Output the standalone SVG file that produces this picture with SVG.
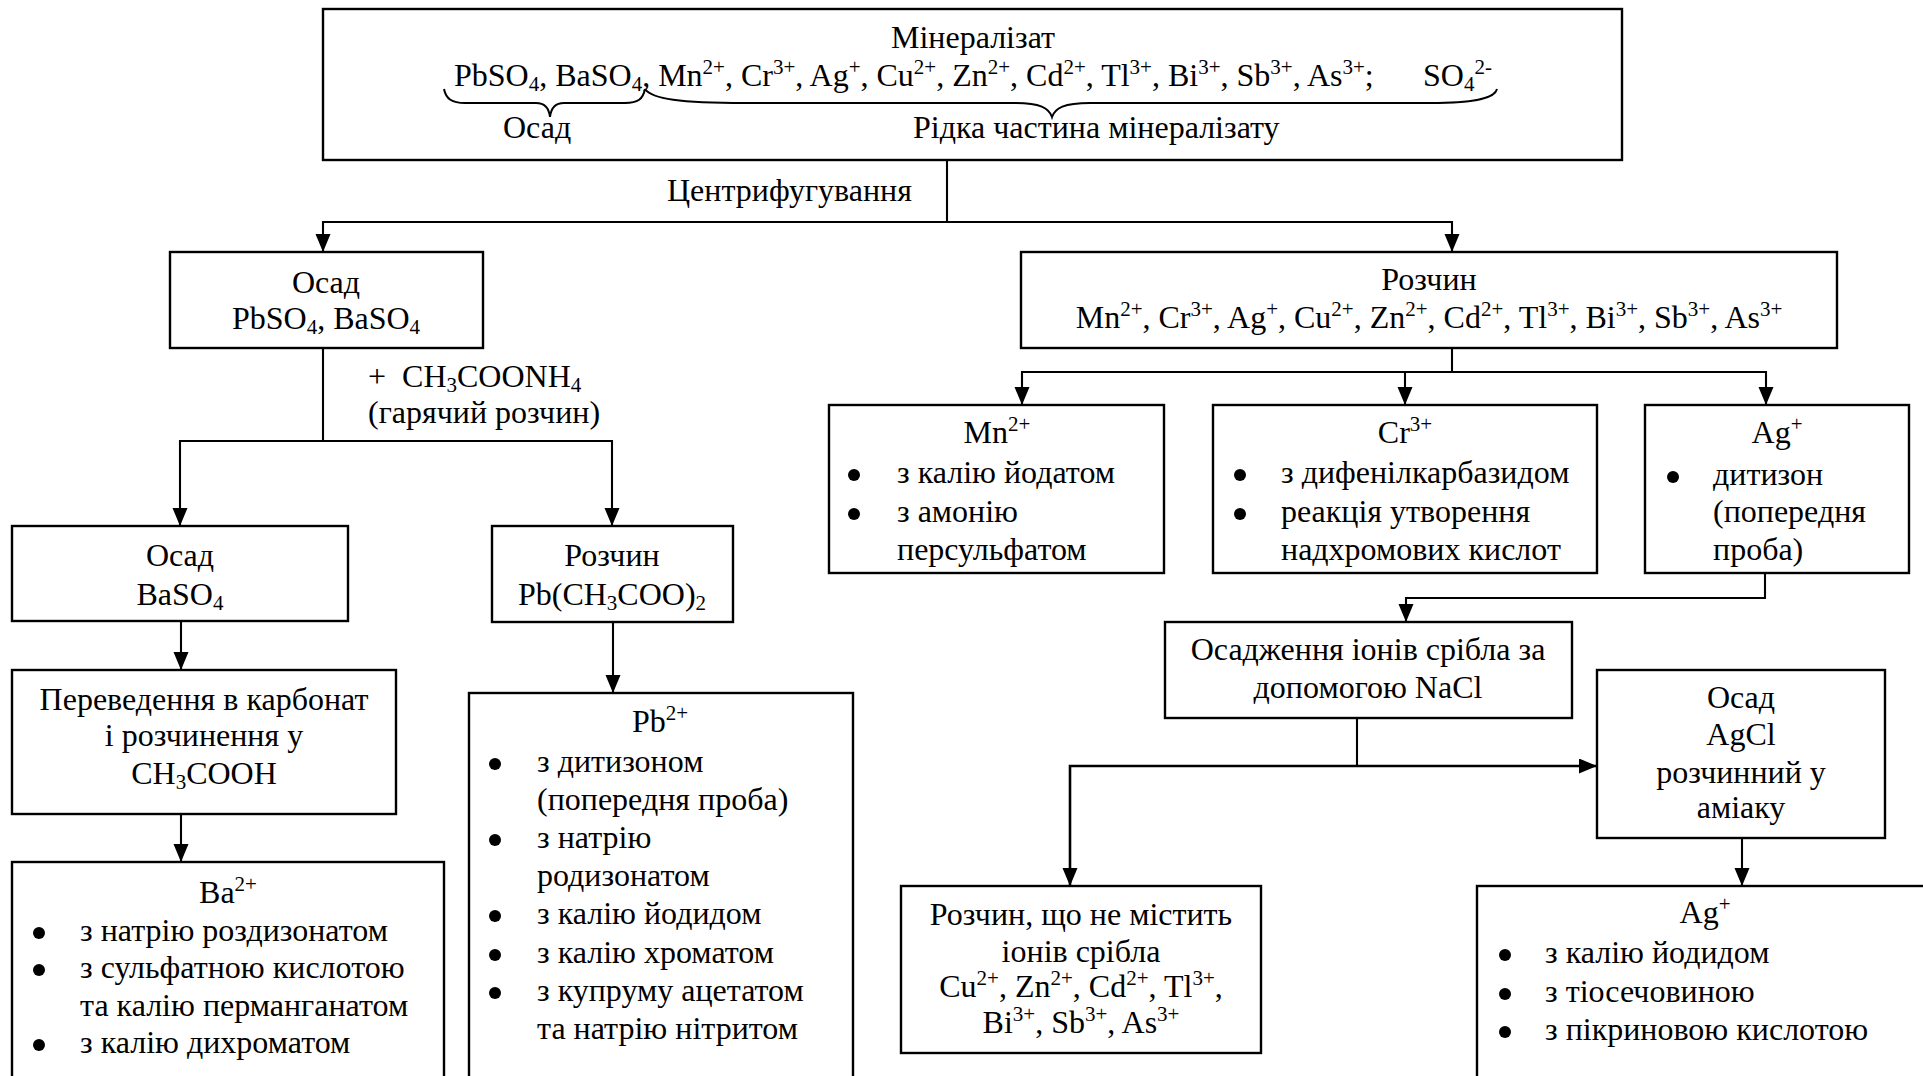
<svg xmlns="http://www.w3.org/2000/svg" width="1923" height="1076" viewBox="0 0 1923 1076">
<style>
.box{fill:#fff;stroke:#000;stroke-width:2.4}
.t{font-family:"Liberation Serif","Times New Roman",serif;font-size:32px;fill:#000}
.c{text-anchor:middle}
.s{font-size:21px}
.dot{fill:#000}
.ln{fill:none;stroke:#000;stroke-width:2.1}
.br{fill:none;stroke:#000;stroke-width:2}
</style>
<defs>
<marker id="ah" markerUnits="userSpaceOnUse" markerWidth="20" markerHeight="16" refX="18" refY="7.5" orient="auto"><path d="M0,0 L18,7.5 L0,15 z" fill="#000"/></marker>
</defs>
<rect width="1923" height="1076" fill="#fff"/>

<g id="connectors">
<path class="ln" d="M947,160 V222 H323 V252" marker-end="url(#ah)"/>
<path class="ln" d="M947,222 H1452 V252" marker-end="url(#ah)"/>
<path class="ln" d="M323,348 V441 H180 V526" marker-end="url(#ah)"/>
<path class="ln" d="M323,441 H612 V526" marker-end="url(#ah)"/>
<path class="ln" d="M181,621 V670" marker-end="url(#ah)"/>
<path class="ln" d="M181,814 V862" marker-end="url(#ah)"/>
<path class="ln" d="M613,622 V693" marker-end="url(#ah)"/>
<path class="ln" d="M1452,348 V372 H1022 V405" marker-end="url(#ah)"/>
<path class="ln" d="M1452,372 H1766 V405" marker-end="url(#ah)"/>
<path class="ln" d="M1405,372 V405" marker-end="url(#ah)"/>
<path class="ln" d="M1765,573 V598 H1406 V622" marker-end="url(#ah)"/>
<path class="ln" d="M1357,718 V766"/>
<path class="ln" d="M1357,766 H1597" marker-end="url(#ah)" style="stroke-width:2.6"/>
<path class="ln" d="M1357,766 H1070 V886" marker-end="url(#ah)" style="stroke-width:2.6"/>
<path class="ln" d="M1742,838 V886" marker-end="url(#ah)"/>
</g>

<g id="mineralizat">
<rect class="box" x="323" y="9" width="1299" height="151"/>
<text class="t c" x="973" y="48">Мінералізат</text>
<text class="t" x="454" y="86">PbSO<tspan class="s" dy="5">4</tspan><tspan dy="-5">, BaSO</tspan><tspan class="s" dy="5">4</tspan><tspan dy="-5">, Mn</tspan><tspan class="s" dy="-12">2+</tspan><tspan dy="12">, Cr</tspan><tspan class="s" dy="-12">3+</tspan><tspan dy="12">, Ag</tspan><tspan class="s" dy="-12">+</tspan><tspan dy="12">, Cu</tspan><tspan class="s" dy="-12">2+</tspan><tspan dy="12">, Zn</tspan><tspan class="s" dy="-12">2+</tspan><tspan dy="12">, Cd</tspan><tspan class="s" dy="-12">2+</tspan><tspan dy="12">, Tl</tspan><tspan class="s" dy="-12">3+</tspan><tspan dy="12">, Bi</tspan><tspan class="s" dy="-12">3+</tspan><tspan dy="12">, Sb</tspan><tspan class="s" dy="-12">3+</tspan><tspan dy="12">, As</tspan><tspan class="s" dy="-12">3+</tspan><tspan dy="12">;</tspan></text>
<text class="t" x="1423" y="86">SO<tspan class="s" dy="5">4</tspan><tspan class="s" dy="-17">2-</tspan></text>
<path class="br" d="M444,89 C446,99 452,103 465,103 L536,103 C545,103 549,108 550,117 C551,108 555,103 564,103 L625,103 C638,103 643,99 645,89"/>
<path class="br" d="M645,89 C652,99 680,103 745,103 L1015,103 C1040,103 1049,108 1052,117 C1055,108 1064,103 1090,103 L1430,103 C1480,103 1495,97 1497,89"/>
<text class="t" x="503" y="138">Осад</text>
<text class="t" x="913" y="138">Рідка частина мінералізату</text>
</g>

<g id="label-centrifuge">
<text class="t" x="667" y="201">Центрифугування</text>
</g>

<g id="osad1">
<rect class="box" x="170" y="252" width="313" height="96"/>
<text class="t c" x="326" y="293">Осад</text>
<text class="t c" x="326" y="329">PbSO<tspan class="s" dy="5">4</tspan><tspan dy="-5">, BaSO</tspan><tspan class="s" dy="5">4</tspan></text>
</g>

<g id="label-reagent">
<text class="t" x="368" y="387">+ &#160;CH<tspan class="s" dy="5">3</tspan><tspan dy="-5">COONH</tspan><tspan class="s" dy="5">4</tspan></text>
<text class="t" x="368" y="423">(гарячий розчин)</text>
</g>

<g id="rozchyn1">
<rect class="box" x="1021" y="252" width="816" height="96"/>
<text class="t c" x="1429" y="290">Розчин</text>
<text class="t c" x="1429" y="328">Mn<tspan class="s" dy="-12">2+</tspan><tspan dy="12">, Cr</tspan><tspan class="s" dy="-12">3+</tspan><tspan dy="12">, Ag</tspan><tspan class="s" dy="-12">+</tspan><tspan dy="12">, Cu</tspan><tspan class="s" dy="-12">2+</tspan><tspan dy="12">, Zn</tspan><tspan class="s" dy="-12">2+</tspan><tspan dy="12">, Cd</tspan><tspan class="s" dy="-12">2+</tspan><tspan dy="12">, Tl</tspan><tspan class="s" dy="-12">3+</tspan><tspan dy="12">, Bi</tspan><tspan class="s" dy="-12">3+</tspan><tspan dy="12">, Sb</tspan><tspan class="s" dy="-12">3+</tspan><tspan dy="12">, As</tspan><tspan class="s" dy="-12">3+</tspan></text>
</g>

<g id="osad-baso4">
<rect class="box" x="12" y="526" width="336" height="95"/>
<text class="t c" x="180" y="566">Осад</text>
<text class="t c" x="180" y="605">BaSO<tspan class="s" dy="5">4</tspan></text>
</g>

<g id="rozchyn-pb">
<rect class="box" x="492" y="526" width="241" height="96"/>
<text class="t c" x="612" y="566">Розчин</text>
<text class="t c" x="612" y="605">Pb(CH<tspan class="s" dy="5">3</tspan><tspan dy="-5">COO)</tspan><tspan class="s" dy="5">2</tspan></text>
</g>

<g id="perevedennia">
<rect class="box" x="12" y="670" width="384" height="144"/>
<text class="t c" x="204" y="710">Переведення в карбонат</text>
<text class="t c" x="204" y="746">і розчинення у</text>
<text class="t c" x="204" y="784">CH<tspan class="s" dy="5">3</tspan><tspan dy="-5">COOH</tspan></text>
</g>

<g id="ba">
<rect class="box" x="12" y="862" width="432" height="250"/>
<text class="t c" x="228" y="903">Ba<tspan class="s" dy="-12">2+</tspan></text>
<circle class="dot" cx="39" cy="933" r="6"/>
<circle class="dot" cx="39" cy="970" r="6"/>
<circle class="dot" cx="39" cy="1045" r="6"/>
<text class="t" x="80" y="941">з натрію роздизонатом</text>
<text class="t" x="80" y="978">з сульфатною кислотою</text>
<text class="t" x="80" y="1016">та калію перманганатом</text>
<text class="t" x="80" y="1053">з калію дихроматом</text>
</g>

<g id="pb">
<rect class="box" x="469" y="693" width="384" height="450"/>
<text class="t c" x="660" y="732">Pb<tspan class="s" dy="-12">2+</tspan></text>
<circle class="dot" cx="495" cy="764" r="6"/>
<circle class="dot" cx="495" cy="840" r="6"/>
<circle class="dot" cx="495" cy="916" r="6"/>
<circle class="dot" cx="495" cy="955" r="6"/>
<circle class="dot" cx="495" cy="993" r="6"/>
<text class="t" x="537" y="772">з дитизоном</text>
<text class="t" x="537" y="810">(попередня проба)</text>
<text class="t" x="537" y="848">з натрію</text>
<text class="t" x="537" y="886">родизонатом</text>
<text class="t" x="537" y="924">з калію йодидом</text>
<text class="t" x="537" y="963">з калію хроматом</text>
<text class="t" x="537" y="1001">з купруму ацетатом</text>
<text class="t" x="537" y="1039">та натрію нітритом</text>
</g>

<g id="mn">
<rect class="box" x="829" y="405" width="335" height="168"/>
<text class="t c" x="997" y="443">Mn<tspan class="s" dy="-12">2+</tspan></text>
<circle class="dot" cx="854" cy="475" r="6"/>
<circle class="dot" cx="854" cy="514" r="6"/>
<text class="t" x="897" y="483">з калію йодатом</text>
<text class="t" x="897" y="522">з амонію</text>
<text class="t" x="897" y="560">персульфатом</text>
</g>

<g id="cr">
<rect class="box" x="1213" y="405" width="384" height="168"/>
<text class="t c" x="1405" y="443">Cr<tspan class="s" dy="-12">3+</tspan></text>
<circle class="dot" cx="1240" cy="475" r="6"/>
<circle class="dot" cx="1240" cy="514" r="6"/>
<text class="t" x="1281" y="483">з дифенілкарбазидом</text>
<text class="t" x="1281" y="522">реакція утворення</text>
<text class="t" x="1281" y="560">надхромових кислот</text>
</g>

<g id="ag1">
<rect class="box" x="1645" y="405" width="264" height="168"/>
<text class="t c" x="1777" y="443">Ag<tspan class="s" dy="-12">+</tspan></text>
<circle class="dot" cx="1673" cy="477" r="6"/>
<text class="t" x="1713" y="485">дитизон</text>
<text class="t" x="1713" y="522">(попередня</text>
<text class="t" x="1713" y="560">проба)</text>
</g>

<g id="osadzhennia">
<rect class="box" x="1165" y="622" width="407" height="96"/>
<text class="t c" x="1368" y="660">Осадження іонів срібла за</text>
<text class="t c" x="1368" y="698">допомогою NaCl</text>
</g>

<g id="osad-agcl">
<rect class="box" x="1597" y="670" width="288" height="168"/>
<text class="t c" x="1741" y="708">Осад</text>
<text class="t c" x="1741" y="745">AgCl</text>
<text class="t c" x="1741" y="783">розчинний у</text>
<text class="t c" x="1741" y="818">аміаку</text>
</g>

<g id="rozchyn-bez-ag">
<rect class="box" x="901" y="886" width="360" height="167"/>
<text class="t c" x="1081" y="925">Розчин, що не містить</text>
<text class="t c" x="1081" y="962">іонів срібла</text>
<text class="t c" x="1081" y="997">Cu<tspan class="s" dy="-12">2+</tspan><tspan dy="12">, Zn</tspan><tspan class="s" dy="-12">2+</tspan><tspan dy="12">, Cd</tspan><tspan class="s" dy="-12">2+</tspan><tspan dy="12">, Tl</tspan><tspan class="s" dy="-12">3+</tspan><tspan dy="12">,</tspan></text>
<text class="t c" x="1081" y="1033">Bi<tspan class="s" dy="-12">3+</tspan><tspan dy="12">, Sb</tspan><tspan class="s" dy="-12">3+</tspan><tspan dy="12">, As</tspan><tspan class="s" dy="-12">3+</tspan></text>
</g>

<g id="ag2">
<rect class="box" x="1477" y="886" width="460" height="250"/>
<text class="t c" x="1705" y="923">Ag<tspan class="s" dy="-12">+</tspan></text>
<circle class="dot" cx="1505" cy="955" r="6"/>
<circle class="dot" cx="1505" cy="994" r="6"/>
<circle class="dot" cx="1505" cy="1032" r="6"/>
<text class="t" x="1545" y="963">з калію йодидом</text>
<text class="t" x="1545" y="1002">з тіосечовиною</text>
<text class="t" x="1545" y="1040">з пікриновою кислотою</text>
</g>
</svg>
